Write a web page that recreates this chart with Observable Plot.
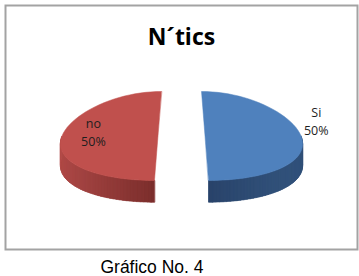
<!DOCTYPE html>
<html><head><meta charset="utf-8">
<script src="https://cdn.jsdelivr.net/npm/d3@7"></script>
<script src="https://cdn.jsdelivr.net/npm/@observablehq/plot@0.6"></script>
<style>
body{margin:0;background:#fff;}
#wrap{position:relative;width:359px;height:276px;overflow:hidden;}
#chart svg{display:block;}
#cap{position:absolute;left:0;width:304px;text-align:center;top:259px;font-family:"Liberation Sans",Arial,sans-serif;font-size:17.5px;line-height:17.5px;color:#000;}
</style></head><body>
<div id="wrap"><div id="chart"></div><div id="cap"></div></div>
<script>
const title = "N\u00B4tics";
const categories = ["Si", "no"];
const values = [50, 50];
const topColors = ["#4f81bd", "#c0504d"];
const sideColors = [["#29436a", "#34567f", "#2e4c75"], ["#b44c49", "#a84644", "#7a2d2b"]];
const caption = "Gráfico No. 4";

// geometry (in scale units)
const explode = 0.245, tilt = 0.4635, depth = 0.226, persp = 0.149, N = 48;
const labelPlace = [{r: 1.21, turn: 16.7}, {r: 0.68, turn: -8.6}];

const arcs = d3.pie().sort(null)(values);
function pt(cx, a, z) {
  const phi = Math.PI / 2 - a;
  const f = 1 - persp * Math.sin(phi);
  return {x: (cx + Math.cos(phi)) * f, y: tilt * Math.sin(phi) - z};
}

const tops = [], sides = [], bases = [], labels = [];
arcs.forEach((arc, k) => {
  const mid = (arc.startAngle + arc.endAngle) / 2;
  const cx = explode * Math.sin(mid);
  // top face
  tops.push({id: "t" + k, x: cx, y: 0, color: topColors[k]});
  for (let i = 0; i <= N; i++) {
    const a = arc.startAngle + (arc.endAngle - arc.startAngle) * i / N;
    tops.push({id: "t" + k, ...pt(cx, a, 0), color: topColors[k]});
  }
  // visible side (front half)
  const s0 = Math.max(arc.startAngle, Math.PI / 2), s1 = Math.min(arc.endAngle, 3 * Math.PI / 2);
  if (s1 > s0) {
    const interp = d3.interpolateRgbBasis(sideColors[k]);
    const up = [], down = [];
    for (let i = 0; i <= N; i++) {
      const a = s0 + (s1 - s0) * i / N;
      up.push(pt(cx, a, 0)); down.push(pt(cx, a, depth));
    }
    [...up, ...down.reverse()].forEach(p => bases.push({id: "b" + k, ...p, color: sideColors[k][1]}));
    for (let i = 0; i < N; i++) {
      const a0 = s0 + (s1 - s0) * i / N, a1 = s0 + (s1 - s0) * (i + 1) / N;
      const c = interp(1 - (i + 0.5) / N);
      const id = "s" + k + "_" + i;
      [pt(cx, a0, 0), pt(cx, a1, 0), pt(cx, a1, depth), pt(cx, a0, depth)]
        .forEach(p => sides.push({id, ...p, color: c}));
    }
  }
  // label
  const lp = labelPlace[k];
  const phi = Math.PI / 2 - mid + lp.turn * Math.PI / 180;
  labels.push({x: cx + lp.r * Math.cos(phi), y: tilt * lp.r * Math.sin(phi),
    text: categories[k] + "\n" + Math.round(arc.data / d3.sum(values) * 100) + "%"});
});

const chart = Plot.plot({
  width: 359, height: 251,
  marginLeft: 5, marginRight: 2, marginTop: 5, marginBottom: 2,
  x: {domain: [-1.8333, 1.8333], axis: null},
  y: {domain: [-1.1823, 1.3594], axis: null},
  color: {type: "identity"},
  style: {background: "#fff", overflow: "visible"},
  marks: [
    Plot.line(bases, {x: "x", y: "y", z: "id", fill: "color", stroke: "none", curve: "linear-closed"}),
    Plot.line(sides, {x: "x", y: "y", z: "id", fill: "color", stroke: "color", strokeWidth: 0.6, curve: "linear-closed"}),
    Plot.line(tops, {x: "x", y: "y", z: "id", fill: "color", stroke: "color", strokeWidth: 0.5, curve: "linear-closed"}),
    Plot.text(labels, {x: "x", y: "y", text: "text", fontSize: 12.5, lineHeight: 1.45, fontFamily: "Open Sans", fill: "#1e1e1e"}),
    Plot.text([title], {frameAnchor: "top", lineAnchor: "middle", dy: 32, text: d => d, fontSize: 23, fontWeight: "bold", fontFamily: "Open Sans", fill: "#000"}),
    Plot.frame({stroke: "#a3a3a3", strokeWidth: 2})
  ]
});
document.getElementById("chart").appendChild(chart);
document.getElementById("cap").textContent = caption;
</script>
</body></html>
